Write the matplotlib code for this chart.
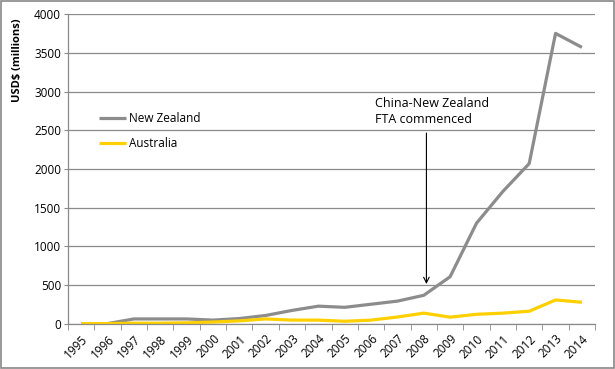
import numpy as np, matplotlib
matplotlib.use('Agg')
import matplotlib.pyplot as plt
from matplotlib.patches import Rectangle
matplotlib.rcParams['font.family'] = ['Open Sans', 'DejaVu Sans']

years = [str(y) for y in range(1995, 2015)]
new_zealand = [5, 5, 65, 65, 65, 50, 70, 110, 175, 230, 215, 255, 295, 370,
               610, 1300, 1710, 2070, 3750, 3570]
australia = [5, 5, 10, 10, 15, 25, 40, 65, 50, 50, 35, 50, 90, 140,
             88, 125, 140, 165, 310, 280]
yticks = [0, 500, 1000, 1500, 2000, 2500, 3000, 3500, 4000]

C = {'nz': '#8C8C8C', 'au': '#FFD000', 'grid': '#8A8A8A', 'tx': '#000000'}

fig = plt.figure(figsize=(6.15, 3.69), dpi=100)
ax = fig.add_axes([0.1106, 0.122, 0.857, 0.840])
x = np.arange(len(years))

ax.plot(x, new_zealand, color=C['nz'], lw=2.3, label='New Zealand', solid_capstyle='butt')
ax.plot(x, australia, color=C['au'], lw=2.3, label='Australia', solid_capstyle='butt')

ax.set_xlim(-0.5, len(years) - 0.5)
ax.set_ylim(0, 4000)
ax.set_yticks(yticks)
ax.set_yticklabels([str(v) for v in yticks], fontsize=8.5)
ax.yaxis.grid(True, color=C['grid'], lw=0.9)
ax.set_axisbelow(True)
ax.tick_params(axis='y', length=3, color=C['grid'], pad=2)

ax.set_xticks(x)
ax.set_xticklabels(years, fontsize=8.5, rotation=45, ha='right', rotation_mode='anchor')
ax.tick_params(axis='x', which='major', length=0, pad=6)
ax.set_xticks(np.arange(-0.5, len(years)), minor=True)
ax.tick_params(axis='x', which='minor', length=4, color=C['grid'])

for s in ['top', 'right']:
    ax.spines[s].set_visible(False)
for s in ['left', 'bottom']:
    ax.spines[s].set_color(C['grid'])
    ax.spines[s].set_linewidth(0.9)

ax.set_ylabel('USD$ (millions)', fontsize=8, weight='bold')
ax.yaxis.set_label_coords(-0.085, 0.85)

ax.legend(loc='center left', bbox_to_anchor=(0.038, 0.623), frameon=False, fontsize=8.5,
          handlelength=2.3, handletextpad=0.3, labelspacing=1.05)

ax.annotate('', xy=(13.1, 480), xytext=(13.1, 2500),
            arrowprops=dict(arrowstyle='->', color='black', lw=0.8))
ax.text(11.15, 2745, 'China-New Zealand\nFTA commenced', fontsize=9, ha='left',
        va='center', linespacing=1.3, color=C['tx'])

fig.add_artist(Rectangle((0.0015, 0.0025), 0.997, 0.995, transform=fig.transFigure,
                         fill=False, edgecolor='#888888', lw=1.2))

fig.savefig('out.png', dpi=100, facecolor='white')
